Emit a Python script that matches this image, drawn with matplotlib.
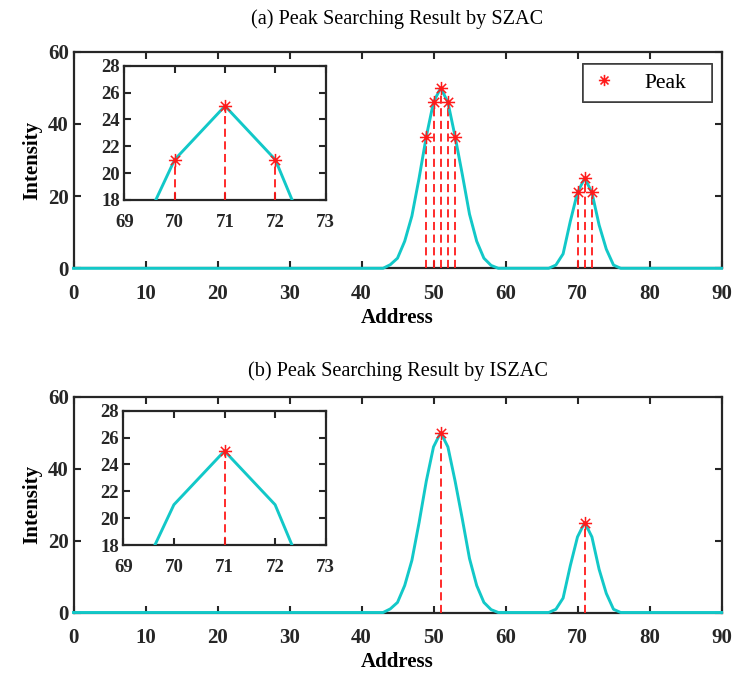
import matplotlib
matplotlib.use("Agg")
import matplotlib.pyplot as plt
from matplotlib.path import Path
import numpy as np

# ---------------- data ----------------
address = list(range(0, 91))
intensity = [0]*43 + [0, 1.0, 2.8, 7.5, 14.5, 25.0, 36.5, 46.0, 50.0, 46.0, 36.5, 26.0,
                      15.0, 7.5, 2.8, 0.8, 0] + [0]*6 + \
            [0, 0.9, 4.0, 13.0, 21.0, 25.0, 21.0, 12.0, 5.3, 0.9, 0] + [0]*14
szac_peaks = [49, 50, 51, 52, 53, 70, 71, 72]
iszac_peaks = [51, 71]
titles = ["(a) Peak Searching Result by SZAC", "(b) Peak Searching Result by ISZAC"]
main_xticks = [0, 10, 20, 30, 40, 50, 60, 70, 80, 90]
main_yticks = [0, 20, 40, 60]
inset_xticks = [69, 70, 71, 72, 73]
inset_yticks = [18, 20, 22, 24, 26, 28]

plt.rcParams['font.family'] = ['Liberation Serif', 'DejaVu Serif']
CYAN = '#12C8C8'
RED = '#FF1A1A'
DARK = '#262626'

# MATLAB-like asterisk marker (8 spokes)
d = 0.7071
ast_verts = [(-1, 0), (1, 0), (0, -1), (0, 1), (-d, -d), (d, d), (-d, d), (d, -d)]
ast_codes = [Path.MOVETO, Path.LINETO] * 4
ASTER = Path(ast_verts, ast_codes)

fig = plt.figure(figsize=(7.39, 6.77), dpi=100)
FW, FH = 739.0, 677.0

ax_left, ax_right = 73.5, 721.5
main_tb = [(51.7, 268.3), (396.5, 612.5)]
inset_box = [(124.3, 325.7, 65.7, 200.0), (123.3, 325.7, 410.7, 545.0)]
title_pads = [20, 15]
peak_sets = [szac_peaks, iszac_peaks]

x = np.array(address)
y = np.array(intensity)


def style_axes(ax, fs, xpad, ypad):
    for s in ax.spines.values():
        s.set_linewidth(1.6)
        s.set_color(DARK)
    ax.tick_params(direction='in', length=5, width=1.5, top=True, right=True,
                   labelsize=fs, colors=DARK)
    ax.tick_params(axis='x', pad=xpad)
    ax.tick_params(axis='y', pad=ypad)
    for lab in ax.get_xticklabels() + ax.get_yticklabels():
        lab.set_fontweight('bold')


for i in range(2):
    t, b = main_tb[i]
    ax = fig.add_axes([ax_left / FW, 1 - b / FH, (ax_right - ax_left) / FW, (b - t) / FH])
    peaks = peak_sets[i]
    pv = [intensity[p] for p in peaks]
    ax.plot(x, y, color=CYAN, lw=2.1, zorder=5, clip_on=False)
    for p, v in zip(peaks, pv):
        ax.plot([p, p], [0, v], color=RED, lw=1.3, ls=(0, (4.5, 2.5)), zorder=4)
    ax.plot(peaks, pv, ls='none', marker=ASTER, color=RED, ms=9.5,
            markeredgewidth=1.1, markerfacecolor='none', zorder=6, label='Peak')
    ax.set_xlim(0, 90)
    ax.set_ylim(0, 60)
    ax.set_xticks(main_xticks)
    ax.set_yticks(main_yticks)
    style_axes(ax, 15, 11, 3.5)
    ax.set_xlabel('Address', fontsize=15, fontweight='bold', labelpad=3)
    ax.set_ylabel('Intensity', fontsize=15, fontweight='bold', labelpad=4)
    ax.set_title(titles[i], fontsize=14.6, pad=title_pads[i])

    axw = ax_right - ax_left
    axh = b - t
    lx0 = (583.3 - ax_left) / axw
    lw_ = (711.7 - 583.3) / axw
    ly1 = 1 - (64.3 - t) / axh
    lh = (105.0 - 64.3) / axh
    leg = ax.legend(loc='upper left', bbox_to_anchor=(lx0, ly1 - lh, lw_, lh),
                    mode='expand', fontsize=15.5, frameon=True, fancybox=False,
                    handlelength=1.15, handletextpad=1.28, borderpad=0.4,
                    borderaxespad=0, markerscale=0.85)
    leg.get_frame().set_edgecolor(DARK)
    leg.get_frame().set_linewidth(1.2)

    l, r, it, ib = inset_box[i]
    ins = fig.add_axes([l / FW, 1 - ib / FH, (r - l) / FW, (ib - it) / FH])
    ins.plot(x, y, color=CYAN, lw=2.1, zorder=5)
    ip = [p for p in peaks if 69 <= p <= 73]
    iv = [intensity[p] for p in ip]
    for p, v in zip(ip, iv):
        ins.plot([p, p], [18, v], color=RED, lw=1.3, ls=(0, (4.5, 2.5)), zorder=4)
    ins.plot(ip, iv, ls='none', marker=ASTER, color=RED, ms=9.5,
             markeredgewidth=1.1, markerfacecolor='none', zorder=6)
    ins.set_xlim(69, 73)
    ins.set_ylim(18, 28)
    ins.set_xticks(inset_xticks)
    ins.set_yticks(inset_yticks)
    style_axes(ins, 13.5, 10, 3)

fig.savefig('out.png', dpi=100)
